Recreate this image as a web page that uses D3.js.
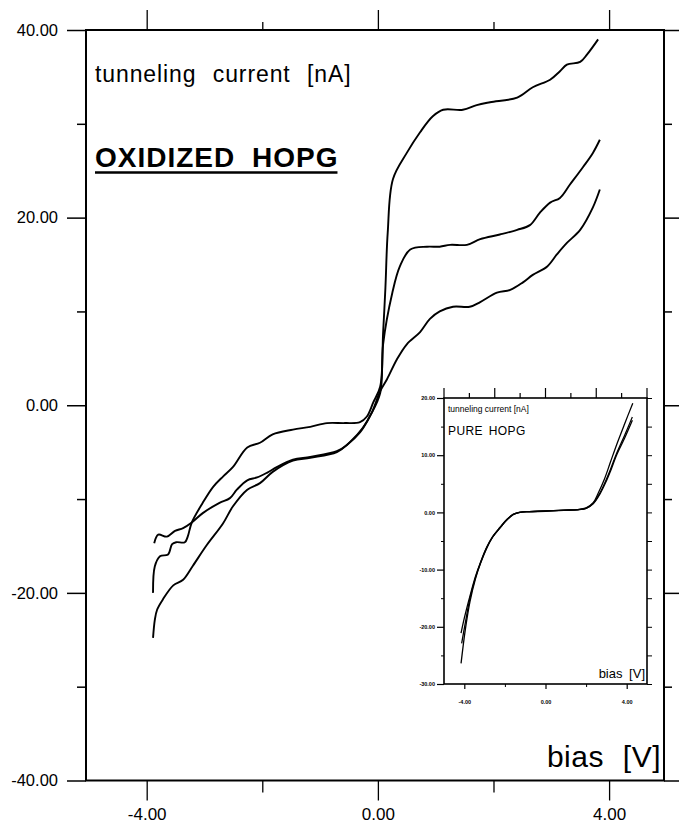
<!DOCTYPE html>
<html>
<head>
<meta charset="utf-8">
<script src="https://cdn.jsdelivr.net/npm/d3@7"></script>
<style>
  body { margin: 0; background: #fff; }
  text { font-family: "Liberation Sans", Arial, Helvetica, sans-serif; fill: #000; }
</style>
</head>
<body>
<div id="chart"></div>
<script>
/**************************************************
 * Data: [bias V, current nA]
 **************************************************/

// Oxidized HOPG, sweep with the highest plateau
const sweepHigh = [
  [-3.89,-20.0],[-3.86,-17.2],[-3.77,-16.1],[-3.63,-15.9],[-3.56,-14.8],[-3.49,-14.6],
  [-3.34,-14.6],[-3.29,-14.0],[-3.22,-12.5],[-3.03,-10.4],[-2.85,-8.7],[-2.68,-7.6],
  [-2.51,-6.6],[-2.26,-4.5],[-2.04,-4.0],[-1.82,-3.1],[-1.47,-2.6],[-1.17,-2.3],
  [-0.88,-1.9],[-0.57,-1.9],[-0.31,-1.8],[-0.19,-1.2],[-0.08,0.3],[0.04,2.0],
  [0.09,7.7],[0.13,12.5],[0.17,18.4],[0.26,24.1],[0.50,26.9],[0.73,29.1],[0.95,30.8],
  [1.13,31.5],[1.47,31.5],[1.71,32.0],[1.94,32.3],[2.41,32.8],[2.68,33.9],[2.98,34.7],
  [3.15,35.6],[3.27,36.3],[3.50,36.6],[3.62,37.4],[3.81,39.0]
];

// Oxidized HOPG, middle sweep
const sweepMid = [
  [-3.87,-14.7],[-3.80,-13.8],[-3.65,-14.0],[-3.51,-13.4],[-3.37,-13.1],[-3.22,-12.5],
  [-3.03,-11.5],[-2.74,-10.4],[-2.56,-9.9],[-2.44,-9.0],[-2.26,-8.0],[-2.09,-7.7],
  [-1.92,-7.2],[-1.75,-6.6],[-1.47,-5.8],[-1.17,-5.5],[-0.71,-4.9],[-0.53,-4.2],
  [-0.31,-2.9],[-0.14,-1.2],[0.04,1.3],[0.09,6.5],[0.25,12.0],[0.38,14.8],[0.56,16.6],
  [0.85,16.9],[1.07,16.9],[1.25,17.1],[1.54,17.1],[1.77,17.7],[2.11,18.2],[2.41,18.7],
  [2.63,19.2],[2.80,20.5],[2.98,21.6],[3.15,22.1],[3.32,23.5],[3.55,25.4],[3.72,26.9],
  [3.84,28.3]
];

// Oxidized HOPG, lowest sweep
const sweepLow = [
  [-3.89,-24.8],[-3.86,-22.9],[-3.82,-21.8],[-3.72,-20.7],[-3.54,-19.2],[-3.37,-18.6],
  [-3.20,-17.1],[-2.96,-14.9],[-2.68,-12.6],[-2.51,-10.8],[-2.26,-9.0],[-2.04,-8.3],
  [-1.82,-7.1],[-1.47,-5.9],[-1.17,-5.6],[-0.71,-5.0],[-0.48,-3.9],[-0.26,-2.4],
  [-0.10,-0.7],[0.04,1.5],[0.16,2.8],[0.33,4.9],[0.50,6.5],[0.73,7.8],[0.90,9.2],
  [1.07,10.0],[1.30,10.5],[1.59,10.5],[1.77,11.0],[2.06,12.0],[2.29,12.3],[2.51,13.1],
  [2.68,13.9],[2.93,14.8],[3.10,16.1],[3.27,17.3],[3.50,18.7],[3.72,21.1],[3.84,23.0]
];

// Pure HOPG (inset), three nearly identical sweeps
const pureA = [
  [-4.16,-26.4],[-3.95,-20.5],[-3.72,-15.6],[-3.45,-11.6],[-3.20,-8.9],[-2.90,-6.3],
  [-2.60,-4.3],[-2.24,-2.7],[-1.90,-1.3],[-1.60,-0.4],[-1.26,0.0],[-0.80,0.15],
  [0.00,0.25],[0.90,0.4],[1.60,0.5],[2.00,0.8],[2.35,1.7],[2.60,3.4],[2.90,5.8],
  [3.20,8.8],[3.50,11.8],[3.90,15.5],[4.30,19.1]
];
const pureB = [
  [-4.16,-21.1],[-4.00,-18.5],[-3.72,-14.6],[-3.45,-11.2],[-3.20,-8.7],[-2.90,-6.1],
  [-2.60,-4.2],[-2.24,-2.6],[-1.90,-1.2],[-1.60,-0.35],[-1.26,0.05],[-0.80,0.15],
  [0.00,0.25],[0.90,0.4],[1.60,0.5],[2.00,0.7],[2.35,1.6],[2.68,3.4],[3.00,5.8],
  [3.20,7.5],[3.50,10.3],[3.90,13.5],[4.28,16.7]
];
const pureC = [
  [-4.13,-22.9],[-3.95,-19.3],[-3.72,-15.0],[-3.45,-11.4],[-3.20,-8.8],[-2.90,-6.2],
  [-2.60,-4.3],[-2.24,-2.7],[-1.90,-1.3],[-1.60,-0.4],[-1.26,0.0],[-0.80,0.1],
  [0.00,0.2],[0.90,0.35],[1.60,0.45],[2.00,0.7],[2.35,1.5],[2.68,3.2],[3.00,5.5],
  [3.20,7.2],[3.50,10.0],[3.90,13.0],[4.28,16.1]
];

// Tick values
const mainXMajor = [-4, 0, 4];
const mainXMinor = [-2, 2];
const mainYMajor = [-40, -20, 0, 20, 40];
const mainYMinor = [-30, -10, 10, 30];
const insetXMajor = [-4, 0, 4];
const insetXMinor = [-2, 2];
const insetYMajor = [-30, -20, -10, 0, 10, 20];
const insetYMinor = [-25, -15, -5, 5, 15];
const insetTopTicks = [-5, -3.75, -2.5, -1.25, 0, 1.25, 2.5, 3.75, 5];

/**************************************************
 * Rendering
 **************************************************/

const W = 679, H = 826;
const fmt = d => d.toFixed(2);

const svg = d3.select("#chart")
  .append("svg")
  .attr("width", W)
  .attr("height", H);

svg.append("rect").attr("width", W).attr("height", H).attr("fill", "#fff");

// ---------- main plot ----------
const x = d3.scaleLinear().domain([-5.05, 4.95]).range([86, 664]);
const y = d3.scaleLinear().domain([-40, 40]).range([780.5, 30]);

function addAxis(axis, transform, width, fontSize) {
  const g = svg.append("g").attr("transform", transform).call(axis);
  g.select(".domain").remove();
  g.selectAll("line").attr("stroke", "#000").attr("stroke-width", width);
  g.selectAll("text")
    .attr("font-size", fontSize)
    .attr("font-family", "Liberation Sans, Arial, sans-serif")
    .attr("fill", "#000");
  return g;
}

// ticks
addAxis(d3.axisLeft(y).tickValues(mainYMinor).tickSize(9).tickFormat(""), "translate(86,0)", 1.5, 0);
addAxis(d3.axisLeft(y).tickValues(mainYMajor).tickSize(19).tickPadding(9).tickFormat(fmt), "translate(86,0)", 1.5, 16.5);
addAxis(d3.axisRight(y).tickValues(mainYMinor).tickSize(8).tickFormat(""), "translate(664,0)", 1.5, 0);
addAxis(d3.axisRight(y).tickValues(mainYMajor).tickSize(16).tickFormat(""), "translate(664,0)", 1.5, 0);
addAxis(d3.axisBottom(x).tickValues(mainXMinor).tickSize(12).tickFormat(""), "translate(0,780.5)", 1.3, 0);
addAxis(d3.axisBottom(x).tickValues(mainXMajor).tickSize(20).tickPadding(7).tickFormat(fmt), "translate(0,780.5)", 1.3, 17);
addAxis(d3.axisTop(x).tickValues(mainXMinor).tickSize(8).tickFormat(""), "translate(0,30)", 1.3, 0);
addAxis(d3.axisTop(x).tickValues(mainXMajor).tickSize(20).tickFormat(""), "translate(0,30)", 1.3, 0);

// frame
svg.append("rect")
  .attr("x", x.range()[0]).attr("y", y.range()[1])
  .attr("width", x.range()[1] - x.range()[0])
  .attr("height", y.range()[0] - y.range()[1])
  .attr("fill", "none").attr("stroke", "#000").attr("stroke-width", 2);

const line = d3.line()
  .x(d => x(d[0]))
  .y(d => y(d[1]))
  .curve(d3.curveCatmullRom.alpha(0.5));

[sweepHigh, sweepMid, sweepLow].forEach(s => {
  svg.append("path")
    .attr("d", line(s))
    .attr("fill", "none")
    .attr("stroke", "#000")
    .attr("stroke-width", 1.9)
    .attr("stroke-linejoin", "round");
});

// labels
svg.append("text")
  .attr("x", 95).attr("y", 82)
  .attr("font-size", 23)
  .style("letter-spacing", "0.9px")
  .style("word-spacing", "9px")
  .text("tunneling current [nA]");

const title = svg.append("text")
  .attr("x", 95).attr("y", 167)
  .attr("font-size", 28)
  .attr("font-weight", "bold")
  .style("letter-spacing", "1px")
  .style("word-spacing", "8px")
  .text("OXIDIZED HOPG");
const tw = title.node().getComputedTextLength();
svg.append("line")
  .attr("x1", 95).attr("x2", 95 + tw - 1)
  .attr("y1", 172.5).attr("y2", 172.5)
  .attr("stroke", "#000").attr("stroke-width", 2.6);

svg.append("text")
  .attr("x", 661).attr("y", 767)
  .attr("text-anchor", "end")
  .attr("font-size", 30)
  .style("letter-spacing", "0.5px")
  .style("word-spacing", "10px")
  .text("bias [V]");

// ---------- inset: pure HOPG ----------
const xi = d3.scaleLinear().domain([-5, 5]).range([444, 647]);
const yi = d3.scaleLinear().domain([-30, 20]).range([684, 398]);

svg.append("rect")
  .attr("x", 444).attr("y", 398).attr("width", 203).attr("height", 286)
  .attr("fill", "#fff");

addAxis(d3.axisLeft(yi).tickValues(insetYMinor).tickSize(3).tickFormat(""), "translate(444,0)", 1, 0);
addAxis(d3.axisLeft(yi).tickValues(insetYMajor).tickSize(7).tickPadding(2).tickFormat(fmt), "translate(444,0)", 1.2, 5.5)
  .selectAll("text").attr("font-weight", "bold");
addAxis(d3.axisRight(yi).tickValues(insetYMajor.concat(insetYMinor)).tickSize(5).tickFormat(""), "translate(647,0)", 1, 0);
addAxis(d3.axisBottom(xi).tickValues(insetXMinor).tickSize(3).tickFormat(""), "translate(0,684)", 1, 0);
addAxis(d3.axisBottom(xi).tickValues(insetXMajor).tickSize(5).tickPadding(11).tickFormat(fmt), "translate(0,684)", 1.2, 5.5)
  .selectAll("text").attr("font-weight", "bold");

// top inset ticks alternate long / short
svg.append("g").selectAll("line")
  .data(insetTopTicks)
  .join("line")
  .attr("x1", d => xi(d)).attr("x2", d => xi(d))
  .attr("y1", 398).attr("y2", (d, i) => i % 2 === 0 ? 388 : 393)
  .attr("stroke", "#000").attr("stroke-width", 1.2);

svg.append("rect")
  .attr("x", 444).attr("y", 398).attr("width", 203).attr("height", 286)
  .attr("fill", "none").attr("stroke", "#000").attr("stroke-width", 1.6);

const lineI = d3.line()
  .x(d => xi(d[0]))
  .y(d => yi(d[1]))
  .curve(d3.curveCatmullRom.alpha(0.5));

[pureA, pureB, pureC].forEach(s => {
  svg.append("path")
    .attr("d", lineI(s))
    .attr("fill", "none")
    .attr("stroke", "#000")
    .attr("stroke-width", 1.3);
});

svg.append("text")
  .attr("x", 448).attr("y", 412)
  .attr("font-size", 8.5)
  .text("tunneling current [nA]");

svg.append("text")
  .attr("x", 448).attr("y", 435)
  .attr("font-size", 12)
  .style("letter-spacing", "0.4px")
  .style("word-spacing", "2px")
  .text("PURE HOPG");

svg.append("text")
  .attr("x", 645).attr("y", 678)
  .attr("text-anchor", "end")
  .attr("font-size", 13)
  .style("word-spacing", "3px")
  .text("bias [V]");
</script>
</body>
</html>
